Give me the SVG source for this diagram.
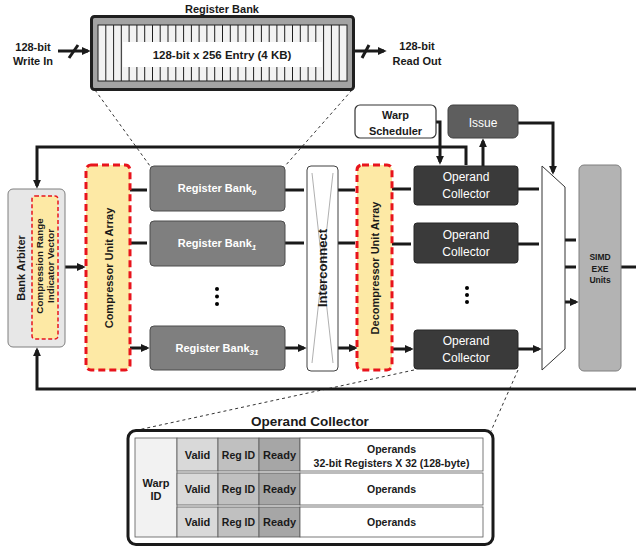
<svg xmlns="http://www.w3.org/2000/svg" width="636" height="550" viewBox="0 0 636 550">
<defs>
<style>
text{font-family:"Liberation Sans",Arial,sans-serif;fill:#1a1a1a}
.b{font-weight:bold}
.w{fill:#fff}
.ar{fill:none;stroke:#1a1a1a;stroke-width:3;marker-end:url(#ah)}
.ln{fill:none;stroke:#1a1a1a;stroke-width:3}
.dash{fill:none;stroke:#333;stroke-width:1;stroke-dasharray:3 3}
.yel{fill:#fde9a5;stroke:#e8141c;stroke-width:3;stroke-dasharray:7 4}
.rb{fill:#7f7f7f;stroke:#4d4d4d;stroke-width:1}
.oc{fill:#3a3a3a;stroke:#262626;stroke-width:1}
.cell{stroke:#595959;stroke-width:0.8}
</style>
<marker id="ah" viewBox="0 0 10 9" refX="7" refY="4.5" markerWidth="3" markerHeight="2.7" orient="auto">
<path d="M0,0 L10,4.5 L0,9 z" fill="#1a1a1a"/>
</marker>
</defs>
<rect width="636" height="550" fill="#fff"/>

<g id="connectors">
<path class="dash" d="M95,90 L150,166 M352,90 L285,166 M414,370 L133,431 M518,370 L491,431"/>
<path class="ar" d="M58,51 H88"/>
<path class="ln" d="M69,58 L78,45"/>
<path class="ar" d="M354,51 H384"/>
<path class="ln" d="M362,58 L369,45"/>
<path class="ar" d="M466,165 V147 H37 V186"/>
<path class="ar" d="M636,389 H37 V350"/>
<path class="ar" d="M65,267 H83"/>
<path class="ar" d="M130,190 H147 M130,243 H147 M130,348 H147"/>
<path class="ar" d="M285,190 H304 M285,243 H304 M285,348 H304"/>
<path class="ar" d="M338,190 H355 M338,243 H355 M338,348 H355"/>
<path class="ar" d="M392,189 H411 M392,244 H411 M392,349 H411"/>
<path class="ar" d="M518,189 H539 M518,244 H539 M518,349 H539"/>
<path class="ar" d="M565,240 H576 M565,267 H576 M565,302 H576"/>
<path class="ar" d="M436,122 H440 V162"/>
<path class="ar" d="M483,166 V141"/>
<path class="ar" d="M518,123 H553 V172"/>
<path class="ln" d="M621,267 H636"/>
</g>

<g id="register-bank-detail">
<text class="b" x="222" y="13" font-size="11" text-anchor="middle">Register Bank</text>
<rect x="91.5" y="16.5" width="262" height="73" rx="3" fill="#a3a3a3" stroke="#1f1f1f" stroke-width="3"/>
<rect x="98" y="25" width="249" height="56" fill="#f2f2f2" stroke="#1f1f1f" stroke-width="1"/>
<path fill="none" stroke="#1f1f1f" stroke-width="1" d="M105.8,25V81M113.6,25V81M121.3,25V81M129.1,25V81M136.9,25V81M144.7,25V81M152.5,25V81M160.2,25V81M168,25V81M175.8,25V81M183.6,25V81M191.4,25V81M199.1,25V81M206.9,25V81M214.7,25V81M222.5,25V81M230.3,25V81M238,25V81M245.8,25V81M253.6,25V81M261.4,25V81M269.2,25V81M276.9,25V81M284.7,25V81M292.5,25V81M300.3,25V81M308.1,25V81M315.8,25V81M323.6,25V81M331.4,25V81M339.2,25V81"/>
<rect x="123" y="42" width="199" height="25" fill="#fff"/>
<text class="b" x="222" y="58.5" font-size="11.5" text-anchor="middle">128-bit x 256 Entry (4 KB)</text>
</g>

<g id="write-in">
<text class="b" x="33" y="51" font-size="11" text-anchor="middle">128-bit</text>
<text class="b" x="33" y="65" font-size="11" text-anchor="middle">Write In</text>
</g>
<g id="read-out">
<text class="b" x="417" y="50" font-size="11" text-anchor="middle">128-bit</text>
<text class="b" x="417" y="65" font-size="11" text-anchor="middle">Read Out</text>
</g>

<g id="bank-arbiter">
<rect x="8" y="189" width="57" height="158" rx="5" fill="#e7e7e7" stroke="#7f7f7f" stroke-width="1"/>
<rect x="32" y="196" width="26" height="143" rx="3" fill="#fde9a5" stroke="#e8141c" stroke-width="1.5" stroke-dasharray="4 2.5"/>
<text class="b" font-size="11" text-anchor="middle" dominant-baseline="central" transform="translate(21,268) rotate(-90)">Bank Arbiter</text>
<text class="b" font-size="9.8" text-anchor="middle" dominant-baseline="central" transform="translate(39,266) rotate(-90)">Compression Range</text>
<text class="b" font-size="9.8" text-anchor="middle" dominant-baseline="central" transform="translate(50,266) rotate(-90)">Indicator Vector</text>
</g>

<g id="compressor">
<rect class="yel" x="86" y="165" width="44" height="205" rx="5"/>
<text class="b" font-size="11" text-anchor="middle" dominant-baseline="central" transform="translate(109,268) rotate(-90)">Compressor Unit Array</text>
</g>

<g id="register-bank-0">
<rect class="rb" x="150" y="166" width="135" height="45" rx="4"/>
<text class="b w" x="217" y="192" font-size="11" text-anchor="middle">Register Bank<tspan font-size="8" font-style="italic" dy="3">0</tspan></text>
</g>
<g id="register-bank-1">
<rect class="rb" x="150" y="221" width="135" height="45" rx="4"/>
<text class="b w" x="217" y="247" font-size="11" text-anchor="middle">Register Bank<tspan font-size="8" font-style="italic" dy="3">1</tspan></text>
</g>
<g id="register-bank-dots">
<circle cx="217" cy="289" r="2"/><circle cx="217" cy="296.5" r="2"/><circle cx="217" cy="304" r="2"/>
</g>
<g id="register-bank-31">
<rect class="rb" x="150" y="326" width="135" height="44" rx="4"/>
<text class="b w" x="217" y="352" font-size="11" text-anchor="middle">Register Bank<tspan font-size="8" font-style="italic" dy="3">31</tspan></text>
</g>

<g id="interconnect">
<rect x="307" y="166" width="31" height="205" rx="4" fill="#fff" stroke="#404040" stroke-width="1"/>
<path d="M312,173 L333,363 M333,173 L312,363" stroke="#9a9a9a" stroke-width="0.8" fill="none"/>
<text class="b" font-size="13" text-anchor="middle" dominant-baseline="central" transform="translate(322.5,268) rotate(-90)">Interconnect</text>
</g>

<g id="decompressor">
<rect class="yel" x="357" y="165" width="35" height="205" rx="5"/>
<text class="b" font-size="11" text-anchor="middle" dominant-baseline="central" transform="translate(374.5,268) rotate(-90)">Decompressor Unit Array</text>
</g>

<g id="warp-scheduler">
<rect x="355" y="105" width="81" height="33" rx="5" fill="#fff" stroke="#333" stroke-width="1.2"/>
<text class="b" x="395.5" y="119" font-size="11" text-anchor="middle">Warp</text>
<text class="b" x="395.5" y="135" font-size="11" text-anchor="middle">Scheduler</text>
</g>
<g id="issue">
<rect x="448" y="105" width="70" height="33" rx="5" fill="#5e5e5e" stroke="#404040" stroke-width="1"/>
<text class="w" x="483" y="127" font-size="12" text-anchor="middle">Issue</text>
</g>

<g id="operand-collector-0">
<rect class="oc" x="414" y="166" width="104" height="39" rx="3"/>
<text class="w" x="466" y="181" font-size="12" text-anchor="middle">Operand</text>
<text class="w" x="466" y="198" font-size="12" text-anchor="middle">Collector</text>
</g>
<g id="operand-collector-1">
<rect class="oc" x="414" y="223" width="104" height="40" rx="3"/>
<text class="w" x="466" y="239" font-size="12" text-anchor="middle">Operand</text>
<text class="w" x="466" y="256" font-size="12" text-anchor="middle">Collector</text>
</g>
<g id="operand-collector-dots">
<circle cx="467" cy="288" r="2"/><circle cx="467" cy="295" r="2"/><circle cx="467" cy="302" r="2"/>
</g>
<g id="operand-collector-n">
<rect class="oc" x="414" y="330" width="104" height="39" rx="3"/>
<text class="w" x="466" y="345" font-size="12" text-anchor="middle">Operand</text>
<text class="w" x="466" y="362" font-size="12" text-anchor="middle">Collector</text>
</g>

<g id="mux">
<polygon points="542,166 565,187 565,349 542,370" fill="#fff" stroke="#333" stroke-width="1"/>
</g>

<g id="simd">
<rect x="579" y="165" width="42" height="206" rx="5" fill="#b3b3b3" stroke="#7f7f7f" stroke-width="1"/>
<text class="b" x="600" y="260" font-size="8.5" text-anchor="middle" fill="#404040">SIMD</text>
<text class="b" x="600" y="271.5" font-size="8.5" text-anchor="middle" fill="#404040">EXE</text>
<text class="b" x="600" y="283" font-size="8.5" text-anchor="middle" fill="#404040">Units</text>
</g>

<g id="operand-collector-detail">
<text class="b" x="310" y="426" font-size="13.5" text-anchor="middle">Operand Collector</text>
<rect x="128" y="430.5" width="365" height="114" rx="8" fill="#fff" stroke="#1a1a1a" stroke-width="3"/>
<rect class="cell" x="135" y="438" width="42" height="99" fill="#f2f2f2"/>
<text class="b" x="156" y="487" font-size="11" text-anchor="middle">Warp</text>
<text class="b" x="156" y="500" font-size="11" text-anchor="middle">ID</text>

<rect class="cell" x="177" y="438" width="41" height="33" fill="#d9d9d9"/>
<rect class="cell" x="218" y="438" width="41" height="33" fill="#c0c0c0"/>
<rect class="cell" x="259" y="438" width="41" height="33" fill="#a6a6a6"/>
<rect class="cell" x="300" y="438" width="183" height="33" fill="#fff"/>
<text class="b" x="197.5" y="458.5" font-size="11" text-anchor="middle">Valid</text>
<text class="b" x="238.5" y="458.5" font-size="10.5" text-anchor="middle">Reg ID</text>
<text class="b" x="279.5" y="458.5" font-size="11" text-anchor="middle">Ready</text>
<text class="b" x="391.5" y="453" font-size="10.5" text-anchor="middle">Operands</text>
<text class="b" x="391.5" y="467" font-size="10.5" text-anchor="middle">32-bit Registers X 32 (128-byte)</text>

<rect class="cell" x="177" y="473" width="41" height="32" fill="#d9d9d9"/>
<rect class="cell" x="218" y="473" width="41" height="32" fill="#c0c0c0"/>
<rect class="cell" x="259" y="473" width="41" height="32" fill="#a6a6a6"/>
<rect class="cell" x="300" y="473" width="183" height="32" fill="#fff"/>
<text class="b" x="197.5" y="493" font-size="11" text-anchor="middle">Valid</text>
<text class="b" x="238.5" y="493" font-size="10.5" text-anchor="middle">Reg ID</text>
<text class="b" x="279.5" y="493" font-size="11" text-anchor="middle">Ready</text>
<text class="b" x="391.5" y="493" font-size="10.5" text-anchor="middle">Operands</text>

<rect class="cell" x="177" y="507" width="41" height="30" fill="#d9d9d9"/>
<rect class="cell" x="218" y="507" width="41" height="30" fill="#c0c0c0"/>
<rect class="cell" x="259" y="507" width="41" height="30" fill="#a6a6a6"/>
<rect class="cell" x="300" y="507" width="183" height="30" fill="#fff"/>
<text class="b" x="197.5" y="526" font-size="11" text-anchor="middle">Valid</text>
<text class="b" x="238.5" y="526" font-size="10.5" text-anchor="middle">Reg ID</text>
<text class="b" x="279.5" y="526" font-size="11" text-anchor="middle">Ready</text>
<text class="b" x="391.5" y="526" font-size="10.5" text-anchor="middle">Operands</text>
</g>
</svg>
